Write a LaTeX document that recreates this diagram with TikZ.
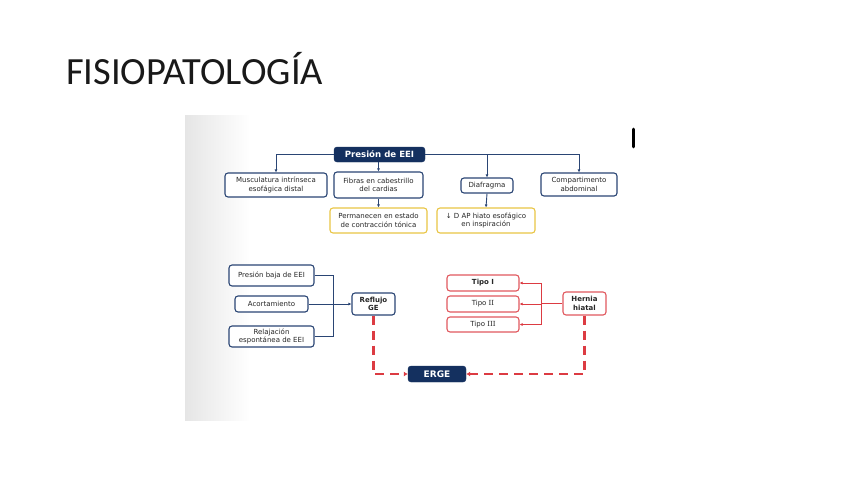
\documentclass[tikz,border=0pt]{standalone}
\usepackage{fontspec}
\setmainfont{DejaVu Sans}
\newfontfamily\titlefont{Carlito}
\newfontfamily\serifnum{DejaVu Serif}
\usetikzlibrary{arrows.meta}
\definecolor{navy}{HTML}{14305F}
\definecolor{navyline}{HTML}{2A4574}
\definecolor{ylw}{HTML}{E9C545}
\definecolor{rd}{HTML}{DC3B42}
\tikzset{
  x=1pt,y=-1pt,
  box/.style={draw=navyline,line width=1.1pt,rounded corners=3pt,fill=white,align=center,inner sep=0pt,font=\fontsize{7}{8.6}\selectfont,text=black!85},
  ybox/.style={box,draw=ylw},
  rbox/.style={box,draw=rd!85},
  dark/.style={draw=navy,fill=navy,rounded corners=3pt,text=white,inner sep=0pt,font=\bfseries\fontsize{8.6}{10}\selectfont},
  conn/.style={draw=navyline,line width=0.9pt},
  arr/.style={conn,-{Latex[length=3pt,width=3pt]}},
  rconn/.style={draw=rd,line width=0.9pt},
  rarr/.style={rconn,-{Latex[length=3pt,width=3pt]}},
  dsh/.style={draw=rd,line width=2.2pt,dash pattern=on 9pt off 6pt,-{Latex[length=4pt,width=5pt]}},
}
\begin{document}
\begin{tikzpicture}
\useasboundingbox (0,0) rectangle (848,477);
\fill[white] (0,0) rectangle (848,477);
% embedded image background
\shade[left color=black!10,right color=white] (185,115) rectangle (250,420);
\draw[line width=2.6pt,line cap=round] (633.5,129) -- (633.5,147);
% title
\node[anchor=base west,inner sep=0pt,font=\titlefont\fontsize{38.5}{42}\selectfont,text=black!90] (title) at (66,84) {FISIOPATOLOGÍA};
% top part
\node[dark,minimum width=91pt,minimum height=15pt] (pres) at (379.5,154.5) {Presión de EEI};
\node[box,minimum width=102pt,minimum height=24pt] (musc) at (276,185) {Musculatura intrínseca\\esofágica distal};
\node[box,minimum width=89pt,minimum height=26pt] (fib) at (378.5,185) {Fibras en cabestrillo\\del cardias};
\node[box,minimum width=52pt,minimum height=15pt] (diaf) at (487,185.5) {Diafragma};
\node[box,minimum width=76pt,minimum height=23pt] (comp) at (579,184.5) {Compartimento\\abdominal};
\node[ybox,minimum width=97pt,minimum height=25pt] (perm) at (378.5,220.5) {Permanecen en estado\\de contracción tónica};
\node[ybox,minimum width=98pt,minimum height=25pt] (dap) at (486,220.5) {↓ D AP hiato esofágico\\en inspiración};
\draw[arr] (pres.west) -| (musc.north);
\draw[arr] (pres.east) -| (comp.north);
\draw[arr] (pres.east) -| (diaf.north);
\draw[arr] (pres.south -| fib.north) -- (fib.north);
\draw[arr] (fib.south) -- (perm.north);
\draw[arr] (diaf.south) -- (dap.north);
% bottom left
\node[box,minimum width=85pt,minimum height=21pt] (pbaja) at (271.5,275.5) {Presión baja de EEI};
\node[box,minimum width=73pt,minimum height=16pt] (acort) at (271.5,304) {Acortamiento};
\node[box,minimum width=85pt,minimum height=21pt] (relaj) at (271.5,336.5) {Relajación\\espontánea de EEI};
\node[box,minimum width=43pt,minimum height=22pt,font=\bfseries\fontsize{7}{8.6}\selectfont] (refl) at (373.5,304) {Reflujo\\GE};
\coordinate (j) at (333,304);
\draw[conn] (pbaja.east) -| (j);
\draw[conn] (relaj.east) -| (j);
\draw[arr] (acort.east) -- (refl.west);
% bottom right
\node[rbox,minimum width=72pt,minimum height=16pt,font=\bfseries\fontsize{7}{8.6}\selectfont] (t1) at (483,283) {Tipo I};
\node[rbox,minimum width=72pt,minimum height=16pt] (t2) at (483,304) {Tipo {\serifnum II}};
\node[rbox,minimum width=72pt,minimum height=15pt] (t3) at (483,324.5) {Tipo {\serifnum III}};
\node[rbox,minimum width=43pt,minimum height=23pt,font=\bfseries\fontsize{7}{8.6}\selectfont] (hern) at (584.5,303.5) {Hernia\\hiatal};
\coordinate (k) at (541,303.5);
\draw[rconn] (hern.west) -- (k);
\draw[rarr] (k) |- (t1.east);
\draw[rarr] (k) -- (k |- t2.east) -- (t2.east);
\draw[rarr] (k) |- (t3.east);
% ERGE
\node[dark,minimum width=58pt,minimum height=16pt,font=\bfseries\fontsize{9}{10}\selectfont] (erge) at (437,374) {ERGE};
\draw[dsh] (refl.south) |- (erge.west);
\draw[dsh] (hern.south) |- (erge.east);
\end{tikzpicture}
\end{document}
